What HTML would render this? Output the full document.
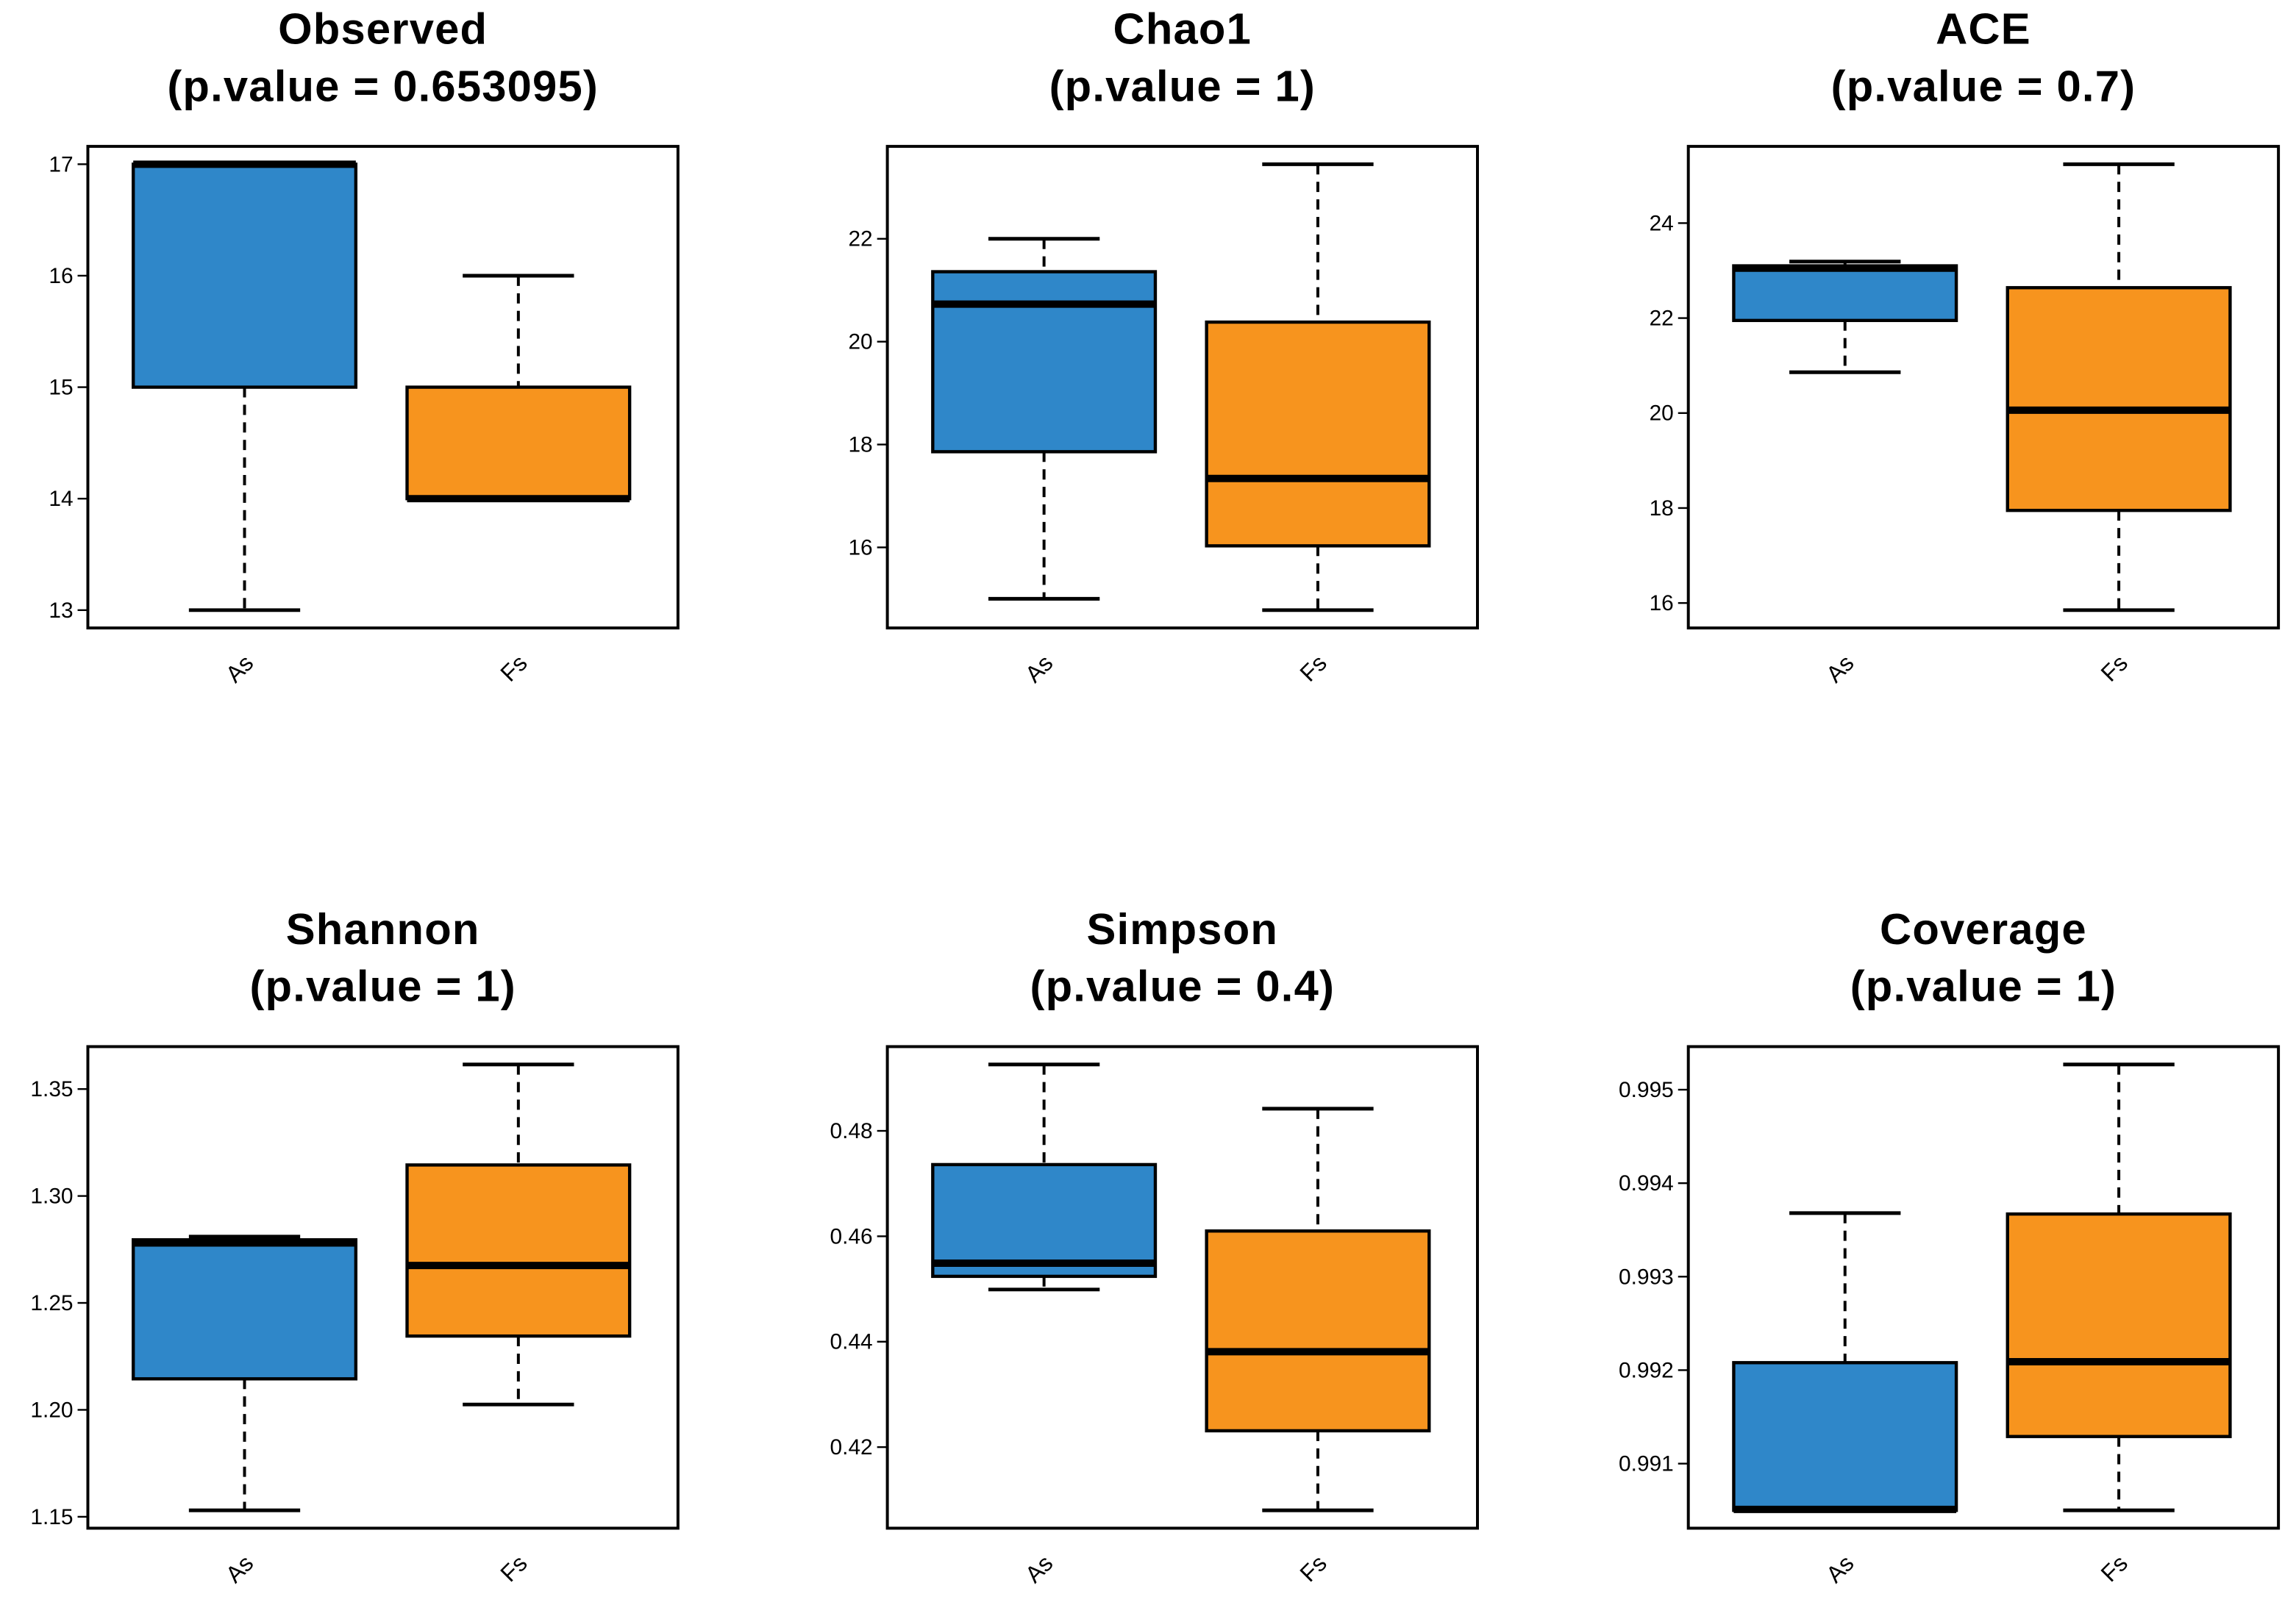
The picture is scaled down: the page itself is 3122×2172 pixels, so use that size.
<!DOCTYPE html>
<html><head><meta charset="utf-8"><style>
html,body{margin:0;padding:0;background:#fff;}
svg{display:block;}
text{font-family:"Liberation Sans",Arial,sans-serif;}
</style></head>
<body>
<svg id="chart" width="3122" height="2172" viewBox="0 0 1568 1091" preserveAspectRatio="none" xmlns="http://www.w3.org/2000/svg"></svg>
<script>
const panelTitles = ["Observed","Chao1","ACE","Shannon","Simpson","Coverage"];
const panelPvalues = ["0.653095","1","0.7","1","0.4","1"];
const categories = ["As","Fs"];
// [min, q1, median, q3, max]
const asStats = [
  [13,15,17,17,17],
  [15,17.86,20.73,21.36,22],
  [20.86,21.95,23.05,23.1,23.19],
  [1.153,1.2145,1.278,1.2795,1.281],
  [0.4499,0.4524,0.4549,0.4736,0.4926],
  [0.99050,0.99050,0.99051,0.99208,0.99368]
];
const fsStats = [
  [14,14,14,15,16],
  [14.78,16.03,17.34,20.38,23.45],
  [15.85,17.95,20.06,22.64,25.24],
  [1.2025,1.2345,1.2675,1.3145,1.3615],
  [0.408,0.4231,0.4381,0.461,0.4842],
  [0.99050,0.99129,0.99209,0.99367,0.99527]
];
const tickValues = [
  [13,14,15,16,17],
  [16,18,20,22],
  [16,18,20,22,24],
  [1.15,1.20,1.25,1.30,1.35],
  [0.42,0.44,0.46,0.48],
  [0.991,0.992,0.993,0.994,0.995]
];
const tickLabels = [
  ["13","14","15","16","17"],
  ["16","18","20","22"],
  ["16","18","20","22","24"],
  ["1.15","1.20","1.25","1.30","1.35"],
  ["0.42","0.44","0.46","0.48"],
  ["0.991","0.992","0.993","0.994","0.995"]
];
const colors = ["#2f87c9","#f7941e"];
const svg = document.getElementById('chart');
const NS = "http://www.w3.org/2000/svg";
function mk(tag, attrs, parent){const e=document.createElementNS(NS,tag);for(const k in attrs)e.setAttribute(k,attrs[k]);parent.appendChild(e);return e;}
const lefts=[60,606,1153], tops=[100,715], W=403, H=329;
for(let p=0;p<6;p++){
  const L=lefts[p%3], T=tops[Math.floor(p/3)];
  const g=mk('g',{},svg);
  
  
  const all=asStats[p].concat(fsStats[p]);
  const mn=Math.min(...all), mx=Math.max(...all), r=mx-mn;
  const y0=mn-0.04*r, y1=mx+0.04*r;
  const y=v=>T+H-(v-y0)/(y1-y0)*H;
  const cx=L+W/2;
  const t1=mk('text',{x:cx,y:T-70,'text-anchor':'middle','font-size':30,'font-weight':'bold','letter-spacing':0.6},g);
  t1.textContent=panelTitles[p];
  
  
  const t2=mk('text',{x:cx,y:T-31,'text-anchor':'middle','font-size':30,'font-weight':'bold','letter-spacing':0.6},g);
  t2.textContent='(p.value = '+panelPvalues[p]+')';
  
  
  tickValues[p].forEach((v,i)=>{
    const yy=y(v);
    const tk=mk('line',{x1:L-7,x2:L,y1:yy,y2:yy,stroke:'#000','stroke-width':1.2},g);
    
    
    const tl=mk('text',{x:L-10,y:yy+5,'text-anchor':'end','font-size':15},g);
    tl.textContent=tickLabels[p][i];
    
    
  });
  [asStats[p],fsStats[p]].forEach((s,j)=>{
    const bx=L+107+j*187, hw=76, cw=38;
    const bg=mk('g',{},g);
    
    
    mk('line',{x1:bx,x2:bx,y1:y(s[4]),y2:y(s[3]),stroke:'#000','stroke-width':2,'stroke-dasharray':'7,5'},bg);
    mk('line',{x1:bx,x2:bx,y1:y(s[1]),y2:y(s[0]),stroke:'#000','stroke-width':2,'stroke-dasharray':'7,5'},bg);
    mk('line',{x1:bx-cw,x2:bx+cw,y1:y(s[4]),y2:y(s[4]),stroke:'#000','stroke-width':2.5},bg);
    mk('line',{x1:bx-cw,x2:bx+cw,y1:y(s[0]),y2:y(s[0]),stroke:'#000','stroke-width':2.5},bg);
    mk('rect',{x:bx-hw,y:y(s[3]),width:2*hw,height:Math.max(0.5,y(s[1])-y(s[3])),fill:colors[j],stroke:'#000','stroke-width':2.2},bg);
    mk('line',{x1:bx-hw,x2:bx+hw,y1:y(s[2]),y2:y(s[2]),stroke:'#000','stroke-width':5},bg);
    const xl=mk('text',{x:0,y:0,'text-anchor':'end','font-size':16,transform:`translate(${bx+7},${T+H+25}) rotate(-45)`},g);
    xl.textContent=categories[j];
    
    
  });
  const fr=mk('rect',{x:L,y:T,width:W,height:H,fill:'none',stroke:'#000','stroke-width':2},g);
  
  
}
</script>
</body></html>
